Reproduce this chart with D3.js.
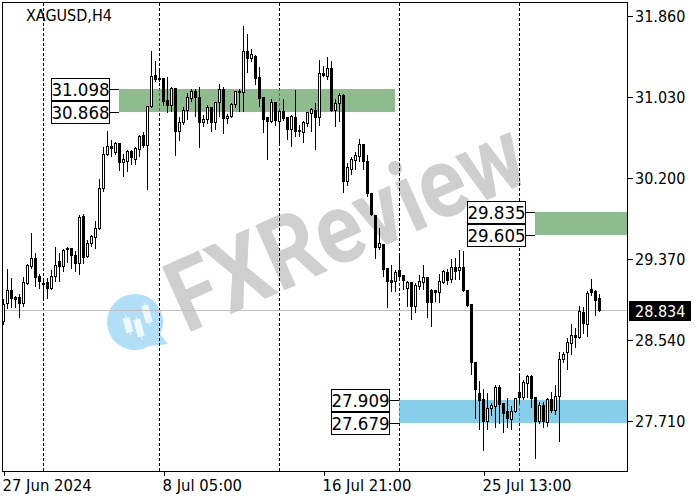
<!DOCTYPE html>
<html><head><meta charset="utf-8">
<script src="https://cdnjs.cloudflare.com/ajax/libs/d3/7.8.5/d3.min.js"></script>
<style>html,body{margin:0;padding:0;background:#fff;overflow:hidden}svg{display:block}text{font-family:"DejaVu Sans Condensed","DejaVu Sans",sans-serif;font-stretch:condensed}</style>
</head><body><div id="c"></div>
<script>
const symbol = "XAGUSD,H4";
const open = [28.725,28.909,29.042,28.970,28.970,28.909,29.114,29.288,29.370,29.186,
29.114,29.124,29.063,29.186,29.339,29.288,29.473,29.473,29.401,29.319,
29.800,29.391,29.524,29.585,29.677,30.087,30.436,30.518,30.456,30.548,
30.354,30.364,30.466,30.384,30.487,30.630,30.528,30.928,31.245,31.215,
31.215,30.989,30.938,31.112,30.671,30.764,30.887,31.010,31.081,31.020,
30.764,30.794,30.917,30.764,30.969,31.102,30.805,30.825,30.948,31.081,
31.071,31.491,31.419,31.440,31.225,31.020,30.815,30.774,30.969,30.774,
30.876,30.815,30.692,30.815,30.682,30.661,30.753,30.856,30.887,30.815,
31.266,31.235,31.317,30.887,30.958,31.040,30.159,30.282,30.374,30.415,
30.538,30.364,30.036,29.811,29.483,29.514,29.268,29.145,29.134,29.247,
29.196,29.063,29.124,28.878,29.083,29.124,29.175,29.042,29.042,29.022,
29.124,29.227,29.155,29.278,29.247,29.278,29.042,28.899,28.304,27.987,
27.925,27.700,27.833,27.853,28.048,27.884,27.802,27.720,27.802,27.997,
27.946,28.089,28.161,27.946,27.700,27.864,27.690,27.925,27.812,27.956,
28.335,28.407,28.499,28.581,28.560,28.817,28.694,29.052,29.032,28.960];
const high = [28.960,29.268,29.175,28.991,29.011,29.186,29.319,29.636,29.432,29.216,
29.175,29.175,29.257,29.493,29.432,29.473,29.493,29.483,29.452,29.821,
29.831,29.565,29.616,29.759,30.190,30.518,30.682,30.589,30.569,30.559,
30.446,30.487,30.487,30.518,30.641,30.671,30.938,31.501,31.399,31.307,
31.225,31.235,31.132,31.122,30.825,30.928,31.071,31.112,31.112,31.132,
30.846,30.948,30.928,30.979,31.163,31.132,30.856,30.969,31.091,31.112,
31.758,31.676,31.522,31.460,31.337,31.030,30.825,31.010,30.980,30.897,
31.010,30.825,30.846,31.102,30.743,30.784,30.876,30.917,30.969,31.409,
31.348,31.440,31.399,31.010,31.071,31.061,30.354,30.415,30.466,30.600,
30.548,30.436,30.046,29.821,29.688,29.524,29.278,29.309,29.257,29.432,
29.206,29.145,29.134,29.124,29.206,29.309,29.186,29.063,29.052,29.216,
29.257,29.268,29.370,29.380,29.462,29.452,29.052,28.899,28.304,28.120,
28.038,27.997,27.894,28.079,28.079,27.884,27.946,27.864,27.946,28.202,
28.130,28.181,28.181,27.956,27.905,27.905,27.946,28.007,28.079,28.417,
28.417,28.560,28.704,28.663,28.888,28.878,29.042,29.165,29.052,29.011];
const low = [28.694,28.858,28.868,28.868,28.765,28.878,29.104,29.268,29.083,29.063,
28.960,28.960,29.052,29.134,29.134,29.237,29.329,29.268,29.237,29.206,
29.319,29.380,29.493,29.473,29.667,30.057,30.425,30.415,30.436,30.272,
30.210,30.262,30.333,30.333,30.415,30.507,30.077,30.917,31.184,31.184,
30.938,30.866,30.876,30.425,30.579,30.743,30.794,30.979,30.825,30.507,
30.723,30.753,30.671,30.692,30.825,30.651,30.753,30.815,30.917,30.876,
30.876,31.276,31.389,31.153,30.928,30.661,30.384,30.764,30.733,30.559,
30.784,30.589,30.518,30.620,30.620,30.559,30.723,30.671,30.487,30.733,
31.235,31.204,30.876,30.723,30.774,30.046,30.118,30.231,30.282,30.364,
30.282,30.010,29.810,29.370,29.462,29.186,28.868,29.032,29.032,29.155,
29.052,28.878,28.745,28.817,29.052,29.052,28.765,28.673,28.929,28.919,
29.114,29.104,29.124,29.155,29.155,29.032,28.878,28.181,27.731,27.618,
27.403,27.618,27.761,27.638,27.679,27.587,27.638,27.618,27.792,27.884,
27.925,27.946,27.843,27.321,27.679,27.638,27.648,27.792,27.771,27.495,
28.304,28.233,28.386,28.458,28.550,28.601,28.571,28.991,28.786,28.827];
const close = [28.899,29.042,28.960,28.950,28.909,29.124,29.298,29.370,29.175,29.134,
29.104,29.063,29.186,29.298,29.288,29.452,29.462,29.401,29.319,29.790,
29.380,29.524,29.596,29.677,30.087,30.436,30.518,30.497,30.548,30.354,
30.384,30.466,30.405,30.497,30.620,30.528,30.928,31.235,31.204,31.204,
30.979,30.938,31.112,30.671,30.764,30.887,31.020,31.081,31.020,30.764,
30.794,30.917,30.764,30.969,31.102,30.805,30.825,30.948,31.081,31.071,
31.491,31.419,31.460,31.215,31.010,30.794,30.774,30.969,30.784,30.876,
30.805,30.692,30.825,30.671,30.671,30.764,30.866,30.897,30.815,31.266,
31.245,31.317,30.887,30.958,31.040,30.159,30.302,30.384,30.425,30.538,
30.364,30.036,29.821,29.483,29.524,29.257,29.134,29.124,29.227,29.186,
29.145,29.124,28.878,29.093,29.134,29.175,28.919,28.919,29.022,29.134,
29.237,29.145,29.278,29.237,29.278,29.042,28.888,28.304,28.028,27.915,
27.700,27.833,27.864,28.048,27.874,27.782,27.731,27.802,27.935,27.946,
28.099,28.161,27.935,27.700,27.864,27.700,27.925,27.812,27.956,28.335,
28.386,28.509,28.581,28.560,28.827,28.704,29.011,29.022,28.940,28.834];
const priceTicks = [31.86,31.03,30.2,29.37,28.54,27.71];
const timeTickIdx = [0,40,80,120];
const timeTickLabels = ["27 Jun 2024","8 Jul 05:00","16 Jul 21:00","25 Jul 13:00"];
const periodSepIdx = [10,39,69,99,129];
const lastPrice = 28.834;
const zoneTops = [31.098,29.835,27.909];
const zoneBottoms = [30.868,29.605,27.679];
const zoneStart = [29,133,99];
const zoneEnd = [98,156,156];
const zoneColors = ["#5F9F5F","#5F9F5F","#54B9E2"];

const W=700,H=500,L=2.5,T=2.5,R=627.5,B=471.5;
const svg=d3.select("#c").append("svg").attr("width",W).attr("height",H);
const x=d3.scaleLinear().domain([0,149]).range([3.5,599.5]);
const y=d3.scaleLinear().domain([27.71,31.86]).range([420.5,15.5]);
const sy=v=>Math.round(y(v)-0.5)+0.5;
const zy=v=>Math.floor(y(v)-0.3);

// watermark
const wm=svg.append("g");
wm.append("text").text("FXReview")
  .attr("transform","translate(186,334) rotate(-24)")
  .attr("textLength",380).attr("lengthAdjust","spacingAndGlyphs")
  .style("font-family","Roboto, sans-serif").style("font-stretch","normal").style("font-weight",700).style("font-size","100px")
  .attr("fill","#cfcfcf");
const bubble=d3.path();
bubble.arc(135,322,28,-2.0,0.45);
bubble.lineTo(168,344);bubble.lineTo(150,346);
bubble.arc(135,322,28,1.0,4.28);
bubble.closePath();
wm.append("path").attr("d",bubble.toString()).attr("fill","#b2dff8");
const logoBars=[[128,325,15],[139,328,18],[147,314,18]];
logoBars.forEach(b=>{
  const g=wm.append("g").attr("transform",`translate(${b[0]},${b[1]}) rotate(-15)`);
  g.append("rect").attr("x",-3.5).attr("y",-b[2]/2).attr("width",7).attr("height",b[2]).attr("fill","#eef8fd");
  g.append("line").attr("y1",-b[2]/2-3).attr("y2",b[2]/2+3).attr("stroke","#eef8fd");
});

const crisp=svg.append("g").attr("shape-rendering","crispEdges");
// period separators
crisp.selectAll(".sep").data(periodSepIdx).join("line").attr("class","sep")
  .attr("x1",d=>x(d)).attr("x2",d=>x(d)).attr("y1",T).attr("y2",B)
  .attr("stroke","#000").attr("stroke-dasharray","3,2");
// zones
crisp.selectAll(".zone").data(zoneTops).join("rect").attr("class","zone")
  .attr("x",(d,i)=>x(zoneStart[i])-0.5).attr("width",(d,i)=>x(zoneEnd[i])-x(zoneStart[i]))
  .attr("y",d=>zy(d))
  .attr("height",(d,i)=>zy(zoneBottoms[i])-zy(d))
  .attr("fill",(d,i)=>zoneColors[i]).attr("fill-opacity",0.7);
// current price line
crisp.append("line").attr("x1",L).attr("x2",R).attr("y1",sy(lastPrice)).attr("y2",sy(lastPrice)).attr("stroke","#c0c0c0");
// candles
const idx=d3.range(open.length);
crisp.selectAll(".wick").data(idx).join("line").attr("class","wick")
  .attr("x1",i=>x(i)).attr("x2",i=>x(i)).attr("y1",i=>sy(high[i])).attr("y2",i=>sy(low[i])).attr("stroke","#000");
crisp.selectAll(".body").data(idx).join("rect").attr("class","body")
  .attr("x",i=>x(i)-1).attr("width",2)
  .attr("y",i=>sy(Math.max(open[i],close[i])))
  .attr("height",i=>sy(Math.min(open[i],close[i]))-sy(Math.max(open[i],close[i])))
  .attr("fill",i=>close[i]>=open[i]?"#fff":"#000").attr("stroke","#000");
// frame
crisp.append("rect").attr("x",L).attr("y",T).attr("width",R-L).attr("height",B-T).attr("fill","none").attr("stroke","#000");
// y axis
const ya=d3.axisRight(y).tickValues(priceTicks).tickFormat(d3.format(".3f")).tickSize(5).tickPadding(2.5);
const yg=svg.append("g").attr("transform",`translate(${R},0)`).call(ya);
yg.select(".domain").remove();
yg.selectAll("line").attr("shape-rendering","crispEdges");
yg.selectAll("text").style("font-size","16px").attr("fill","#000").attr("dy","0.36em");
// x axis
const xa=d3.axisBottom(x).tickValues(timeTickIdx).tickFormat((d,i)=>timeTickLabels[i]).tickSize(4);
const xg=svg.append("g").attr("transform",`translate(0,${B})`).call(xa);
xg.select(".domain").remove();
xg.selectAll("line").attr("shape-rendering","crispEdges");
xg.selectAll("text").style("font-size","16.5px").attr("fill","#000").attr("text-anchor","start").attr("dx","-1.5").attr("y",7).attr("dy","0.76em");
// title
svg.append("text").text(symbol).attr("x",26).attr("y",20.5).style("font-size","16px").attr("fill","#000");
// zone labels
const boxX=[51.5,467.5,331.5], boxW=58, boxH=22;
zoneTops.forEach((top,i)=>{
  [top,zoneBottoms[i]].forEach(v=>{
    const c=svg.append("g");
    const Y=zy(v);
    c.append("line").attr("x1",boxX[i]+boxW).attr("x2",x(zoneStart[i])-0.5).attr("y1",Y+.5).attr("y2",Y+.5).attr("stroke","#000").attr("shape-rendering","crispEdges");
    c.append("rect").attr("x",boxX[i]).attr("y",Y-10.5).attr("width",boxW).attr("height",boxH).attr("fill","#fff").attr("stroke","#000").attr("stroke-width",1.2).attr("shape-rendering","crispEdges");
    c.append("text").text(d3.format(".3f")(v)).attr("x",boxX[i]+boxW/2).attr("y",Y+6.5).attr("text-anchor","middle").style("font-size","18.5px").attr("fill","#000");
  });
});
// price label
svg.append("rect").attr("x",629).attr("y",Math.round(y(lastPrice))-10).attr("width",62).attr("height",20).attr("fill","#000");
svg.append("text").text(d3.format(".3f")(lastPrice)).attr("x",635).attr("y",Math.round(y(lastPrice))+6).style("font-size","16px").attr("fill","#fff");
</script></body></html>
